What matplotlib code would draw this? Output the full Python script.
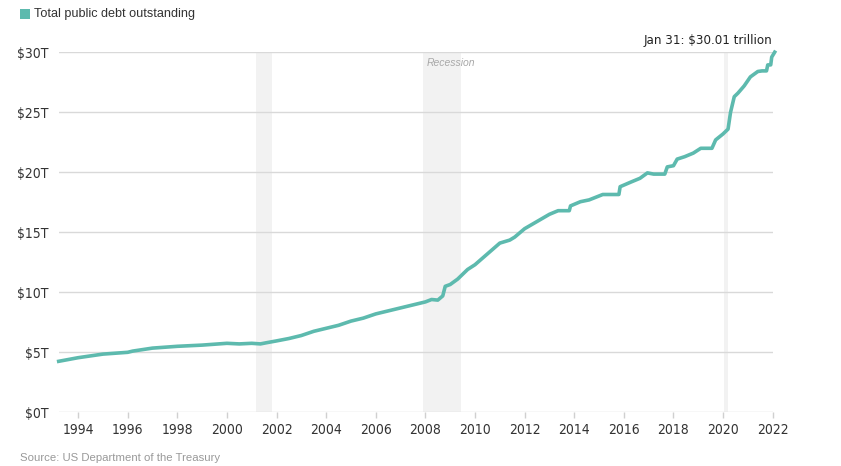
import matplotlib
matplotlib.use('Agg')
import matplotlib.pyplot as plt
import matplotlib.patches as mpatches
from matplotlib import font_manager

# ===== 数据 (年份, 万亿美元) =====
years = [1993.22, 1994.0, 1995.0, 1996.0, 1996.2, 1997.0, 1998.0, 1999.0,
         2000.0, 2000.5, 2001.0, 2001.35, 2001.6, 2002.0, 2002.5, 2003.0,
         2003.5, 2004.0, 2004.5, 2005.0, 2005.5, 2006.0, 2006.5, 2007.0,
         2007.5, 2008.0, 2008.25, 2008.5, 2008.7, 2008.8, 2009.0, 2009.3,
         2009.7, 2010.0, 2010.5, 2011.0, 2011.4, 2011.6, 2012.0, 2012.5,
         2013.0, 2013.35, 2013.8, 2013.85, 2014.25, 2014.6, 2015.15, 2015.8,
         2015.85, 2016.3, 2016.65, 2016.95, 2017.2, 2017.65, 2017.75, 2018.0,
         2018.15, 2018.45, 2018.8, 2019.1, 2019.55, 2019.7, 2020.0, 2020.2,
         2020.3, 2020.45, 2020.6, 2020.85, 2021.1, 2021.4, 2021.57, 2021.75,
         2021.8, 2021.92, 2021.96, 2022.08]
debt = [4.25, 4.55, 4.85, 5.0, 5.1, 5.35, 5.5, 5.6,
        5.75, 5.7, 5.75, 5.7, 5.8, 5.95, 6.15, 6.4,
        6.75, 7.0, 7.25, 7.6, 7.85, 8.2, 8.45, 8.7,
        8.95, 9.2, 9.4, 9.35, 9.7, 10.5, 10.65, 11.1,
        11.9, 12.3, 13.2, 14.1, 14.35, 14.6, 15.3, 15.9,
        16.5, 16.8, 16.8, 17.2, 17.55, 17.7, 18.15, 18.15,
        18.8, 19.2, 19.5, 19.95, 19.85, 19.85, 20.45, 20.55,
        21.1, 21.3, 21.6, 22.0, 22.0, 22.7, 23.2, 23.6,
        25.0, 26.3, 26.6, 27.2, 27.95, 28.4, 28.45, 28.45,
        28.95, 28.95, 29.6, 30.01]

recessions = [(2001.17, 2001.83), (2007.92, 2009.42), (2020.05, 2020.2)]
x_ticks = list(range(1994, 2023, 2))
y_ticks = [0, 5, 10, 15, 20, 25, 30]

LINE = '#5dbaae'
SANS = ['Liberation Sans', 'DejaVu Sans']
# 窄体数字（参考图为 Barlow 风格）
NARROW = font_manager.FontProperties(family='DejaVu Sans', stretch='condensed', size=10)
NOTE = font_manager.FontProperties(family='DejaVu Sans', stretch='condensed', size=9.5)

fig = plt.figure(figsize=(8.41, 4.66), dpi=100, facecolor='white')
ax = fig.add_axes([0.0698, 0.1152, 0.8490, 0.7726])
ax.set_xlim(1993.22, 2022.0)
ax.set_ylim(0, 30)

for a, b in recessions:
    ax.axvspan(a, b, color='#f2f2f2', lw=0, zorder=0)
ax.text(2008.05, 29.1, 'Recession', fontsize=7.5, style='italic',
        color='#a8a8a8', family=SANS, va='center', ha='left')

for v in y_ticks:
    ax.axhline(v, color='#d9d9d9', lw=1, zorder=1)

ax.plot(years, debt, color=LINE, lw=2.6, zorder=3, clip_on=False,
        solid_joinstyle='round')

for s in ax.spines.values():
    s.set_visible(False)
ax.set_xticks(x_ticks)
ax.set_xticklabels([str(y) for y in x_ticks], fontproperties=NARROW,
                   color='#333333')
ax.set_yticks(y_ticks)
ax.set_yticklabels([f'${v}T' for v in y_ticks], fontproperties=NARROW,
                   color='#333333')
ax.tick_params(axis='x', length=4, color='#d0d0d0', width=1, pad=4)
ax.tick_params(axis='y', length=0, pad=7)

# 末端标注
ax.text(2022.0, 30.45, 'Jan 31: $30.01 trillion', ha='right', va='bottom',
        fontproperties=NOTE, color='#222222')

# 图例
fig.patches.append(mpatches.Rectangle((20 / 841, 1 - 19 / 466), 9.5 / 841, 9.5 / 466,
                                      transform=fig.transFigure,
                                      facecolor=LINE, edgecolor='none'))
fig.text(34 / 841, 1 - 14.5 / 466, 'Total public debt outstanding',
         fontsize=9.1, color='#333333', family=SANS, va='center')

fig.text(20 / 841, 1 - 458 / 466, 'Source: US Department of the Treasury',
         fontsize=8.2, color='#999999', family=SANS, va='center')

fig.savefig('out.png', dpi=100, facecolor='white')
